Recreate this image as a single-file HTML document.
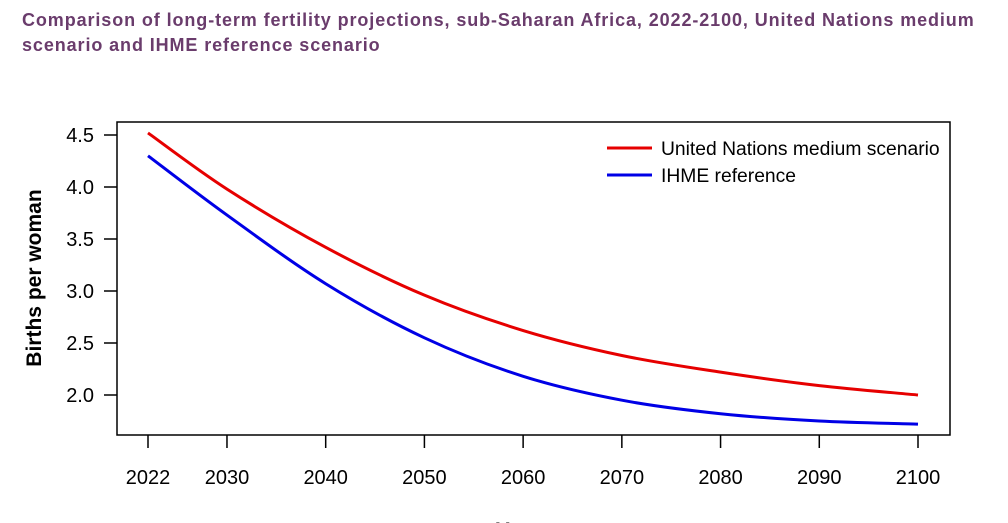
<!DOCTYPE html>
<html><head><meta charset="utf-8"><style>
body{margin:0;background:#fff;width:1008px;height:523px;overflow:hidden;font-family:"Liberation Sans",sans-serif}
.title{position:absolute;left:22px;top:8px;color:#6a3c6c;font-weight:bold;font-size:18px;line-height:25px;letter-spacing:0.9px;white-space:nowrap}
</style></head><body>
<div class="title">Comparison of long-term fertility projections, sub-Saharan Africa, 2022-2100, United Nations medium<br>scenario and IHME reference scenario</div>
<svg id="c" width="1008" height="523" style="position:absolute;left:0;top:0"></svg>
<script>
const years=[2022,2030,2040,2050,2060,2070,2080,2090,2100];
const unVals=[4.52,3.98,3.42,2.96,2.62,2.38,2.22,2.09,2.00];
const ihmeVals=[4.30,3.73,3.07,2.55,2.18,1.95,1.82,1.75,1.72];
const xTicks=[2022,2030,2040,2050,2060,2070,2080,2090,2100];
const yTicks=[2.0,2.5,3.0,3.5,4.0,4.5];
const NS="http://www.w3.org/2000/svg",svg=document.getElementById('c');
const X=v=>148+(v-2022)*(918-148)/78, Y=v=>395-(v-2)*104;
function el(t,a,txt){const e=document.createElementNS(NS,t);for(const k in a)e.setAttribute(k,a[k]);if(txt!=null)e.textContent=txt;svg.appendChild(e);return e;}
let b=el('rect',{x:117,y:122,width:833,height:313,fill:'none',stroke:'#000','stroke-width':1.5});


xTicks.forEach(t=>{let l=el('line',{x1:X(t),x2:X(t),y1:435,y2:448,stroke:'#000','stroke-width':1.5});


let s=el('text',{x:X(t),y:484,'text-anchor':'middle','font-size':20,fill:'#000'},t);

});
yTicks.forEach(t=>{let l=el('line',{x1:104,x2:117,y1:Y(t),y2:Y(t),stroke:'#000','stroke-width':1.5});


let s=el('text',{x:94,y:Y(t)+7,'text-anchor':'end','font-size':20,fill:'#000'},t.toFixed(1));

});
let yt=el('text',{x:41,y:278,'text-anchor':'middle','font-size':21,'font-weight':'bold',transform:'rotate(-90 41 278)'},'Births per woman');


let xt=el('text',{x:518,y:537,'text-anchor':'middle','font-size':21,'font-weight':'bold'},'Year');


function path(vals){const p=years.map((y,i)=>[X(y),Y(vals[i])]);let d='M'+p[0];for(let i=0;i<p.length-1;i++){const p0=p[i-1]||p[i],p1=p[i],p2=p[i+1],p3=p[i+2]||p2;d+=`C${p1[0]+(p2[0]-p0[0])/6},${p1[1]+(p2[1]-p0[1])/6} ${p2[0]-(p3[0]-p1[0])/6},${p2[1]-(p3[1]-p1[1])/6} ${p2[0]},${p2[1]}`;}return d;}
let a=el('path',{d:path(unVals),fill:'none',stroke:'#e60000','stroke-width':3});


let c=el('path',{d:path(ihmeVals),fill:'none',stroke:'#0000e6','stroke-width':3});


[['United Nations medium scenario','#e60000',148,'legend-entry-un'],['IHME reference','#0000e6',175,'legend-entry-ihme']].forEach(([t,col,y,n])=>{
let l=el('line',{x1:607,x2:652,y1:y,y2:y,stroke:col,'stroke-width':3});


let s=el('text',{x:661,y:y+7,'font-size':19.3},t);

});
</script>
</body></html>
